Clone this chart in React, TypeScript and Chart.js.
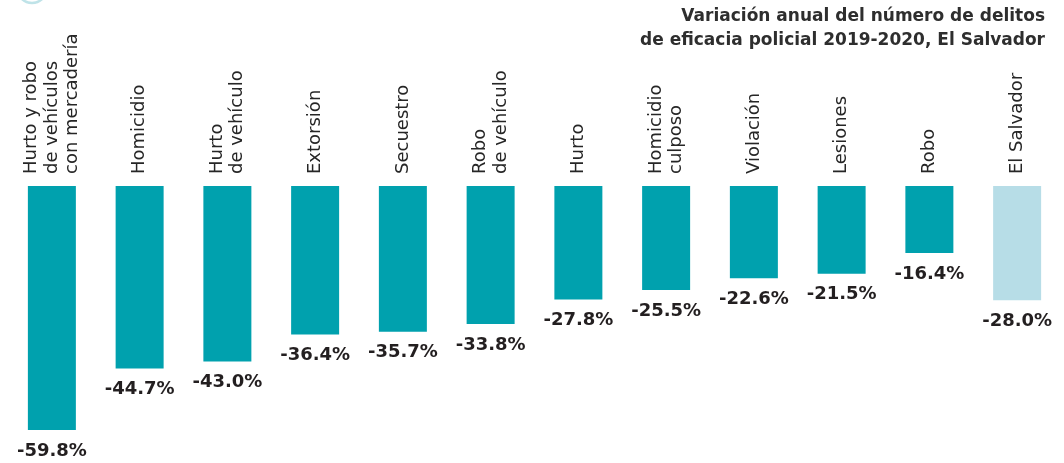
import React, { useEffect, useRef } from "react";
import { Chart, registerables } from "chart.js";

Chart.register(...registerables);

const categories: string[][] = [
  ["Hurto y robo", "de vehículos", "con mercadería"],
  ["Homicidio"],
  ["Hurto", "de vehículo"],
  ["Extorsión"],
  ["Secuestro"],
  ["Robo", "de vehículo"],
  ["Hurto"],
  ["Homicidio", "culposo"],
  ["Violación"],
  ["Lesiones"],
  ["Robo"],
  ["El Salvador"],
];

const values: number[] = [-59.8, -44.7, -43.0, -36.4, -35.7, -33.8, -27.8, -25.5, -22.6, -21.5, -16.4, -28.0];

const titleLines: string[] = [
  "Variación anual del número de delitos",
  "de eficacia policial 2019-2020, El Salvador",
];

const TEAL = "#00a1ae";
const LIGHT = "#b7dde7";
const barColors = values.map((_, i) => (i === values.length - 1 ? LIGHT : TEAL));

const valueLabelPlugin = {
  id: "valueLabels",
  afterDatasetsDraw(chart: any) {
    const ctx = chart.ctx;
    const meta = chart.getDatasetMeta(0);
    ctx.save();
    ctx.fillStyle = "#231f20";
    ctx.font = "bold 18px 'DejaVu Sans'";
    ctx.textAlign = "center";
    ctx.textBaseline = "middle";
    meta.data.forEach((bar: any, i: number) => {
      ctx.fillText(values[i].toFixed(1) + "%", bar.x, bar.y + 21);
    });
    ctx.restore();
  },
};

const categoryLabelPlugin = {
  id: "categoryLabels",
  afterDraw(chart: any) {
    const ctx = chart.ctx;
    const xScale = chart.scales.x;
    const lh = 20.5;
    ctx.save();
    ctx.fillStyle = "#262626";
    ctx.font = "18px 'DejaVu Sans'";
    ctx.textAlign = "left";
    ctx.textBaseline = "middle";
    categories.forEach((lines, i) => {
      const cx = xScale.getPixelForValue(i);
      const n = lines.length;
      lines.forEach((line, j) => {
        const x = cx + (j - (n - 1) / 2) * lh;
        ctx.save();
        ctx.translate(x, chart.chartArea.top - 12);
        ctx.rotate(-Math.PI / 2);
        ctx.fillText(line, 0, 0);
        ctx.restore();
      });
    });
    ctx.restore();
  },
};

const decorPlugin = {
  id: "decor",
  afterDraw(chart: any) {
    const ctx = chart.ctx;
    ctx.save();
    ctx.fillStyle = "#2e2e2e";
    ctx.font = "bold 17px 'DejaVu Sans'";
    ctx.textAlign = "right";
    ctx.textBaseline = "middle";
    const right = chart.width - 19;
    titleLines.forEach((t, i) => ctx.fillText(t, right, 17 + i * 24));
    ctx.strokeStyle = "#bfe3e8";
    ctx.lineWidth = 2.5;
    ctx.beginPath();
    ctx.arc(32, -12, 15, 0, Math.PI * 2);
    ctx.stroke();
    ctx.restore();
  },
};

export default function App() {
  const canvasRef = useRef<HTMLCanvasElement | null>(null);

  useEffect(() => {
    if (!canvasRef.current) return;
    const chart = new Chart(canvasRef.current, {
      type: "bar",
      data: {
        labels: categories.map((c) => c.join(" ")),
        datasets: [
          {
            data: values,
            backgroundColor: barColors,
            borderWidth: 0,
            barPercentage: 0.547,
            categoryPercentage: 1,
          },
        ],
      },
      options: {
        animation: false,
        responsive: true,
        maintainAspectRatio: false,
        layout: { padding: { left: 8, right: 3, top: 0, bottom: 2 } },
        plugins: {
          legend: { display: false },
          tooltip: { enabled: false },
          title: { display: false },
        },
        scales: {
          x: {
            position: "top",
            grid: { display: false },
            border: { display: false },
            ticks: { display: false },
            afterFit: (scale: any) => {
              scale.height = 186;
              scale.paddingLeft = 0;
              scale.paddingRight = 0;
            },
          },
          y: {
            display: false,
            min: -67.4,
            max: 0,
          },
        },
      },
      plugins: [valueLabelPlugin, categoryLabelPlugin, decorPlugin],
    });
    return () => chart.destroy();
  }, []);

  return (
    <div style={{ position: "absolute", left: 0, top: 0, width: 1064, height: 463 }}>
      <canvas ref={canvasRef} />
    </div>
  );
}
